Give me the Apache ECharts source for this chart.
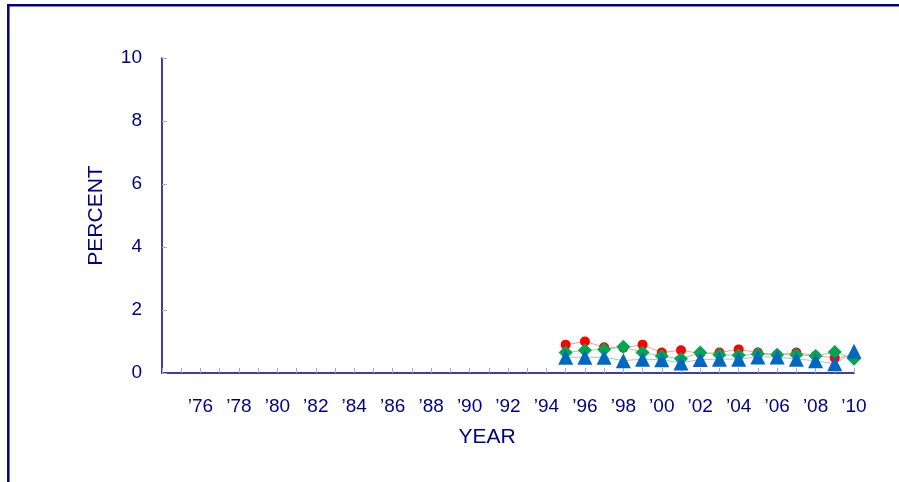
<!DOCTYPE html>
<html>
<head>
<meta charset="utf-8">
<script src="https://cdn.jsdelivr.net/npm/echarts@6/dist/echarts.min.js"></script>
<style>
html,body{margin:0;padding:0;background:#fff;}
#chart{width:899px;height:482px;}
</style>
</head>
<body>
<div id="chart"></div>
<script>
const years = [1995,1996,1997,1998,1999,2000,2001,2002,2003,2004,2005,2006,2007,2008,2009,2010];
const redValues   = [0.90,1.00,0.82,0.80,0.90,0.65,0.72,0.62,0.65,0.75,0.65,0.58,0.65,0.55,0.48,0.55];
const greenValues = [0.65,0.72,0.75,0.83,0.65,0.54,0.45,0.65,0.58,0.56,0.60,0.58,0.58,0.54,0.67,0.45];
const blueValues  = [0.50,0.50,0.50,0.39,0.44,0.42,0.32,0.43,0.44,0.44,0.51,0.51,0.44,0.39,0.29,0.69];
const xMin = 1974, xMax = 2010;
const yTicks = [0,2,4,6,8,10];

const navy = '#000080';
const tickColor = '#a8a8d0';
const font = 'Arial, "Liberation Sans", sans-serif';

function pairs(vals){ return years.map((y,i)=>[y, vals[i]]); }

const chart = echarts.init(document.getElementById('chart'));
chart.setOption({
  animation:false,
  backgroundColor:'#fff',
  graphic:[{
    type:'rect', silent:true,
    shape:{x:8.3,y:5.3,width:1200,height:1200},
    style:{fill:'none',stroke:navy,lineWidth:2.5}
  }],
  grid:{left:162,right:45,top:58,bottom:109,containLabel:false},
  xAxis:{
    type:'value', min:xMin, max:xMax, interval:1,
    name:'YEAR', nameLocation:'middle', nameGap:54,
    nameTextStyle:{color:navy,fontSize:21,fontFamily:font,padding:[0,42,0,0]},
    axisLine:{show:true,lineStyle:{color:navy,width:1.5}},
    axisTick:{show:true,inside:true,length:5,lineStyle:{color:tickColor,width:1}},
    splitLine:{show:false},
    axisLabel:{
      color:navy,fontSize:19,fontFamily:font,margin:24,
      formatter:function(v){
        if (v < 1976 || v % 2 !== 0) return '';
        return '\u2019' + String(v).slice(2);
      }
    }
  },
  yAxis:{
    type:'value', min:yTicks[0], max:yTicks[yTicks.length-1], interval:2,
    name:'PERCENT', nameLocation:'middle', nameGap:55, nameRotate:90,
    nameTextStyle:{color:navy,fontSize:21,fontFamily:font},
    axisLine:{show:true,lineStyle:{color:navy,width:1.5}},
    axisTick:{show:true,inside:true,length:5,lineStyle:{color:tickColor,width:1}},
    splitLine:{show:false},
    axisLabel:{color:navy,fontSize:19,fontFamily:font,margin:20,padding:[4,0,0,0]}
  },
  series:[
    {type:'line', data:pairs(redValues), symbol:'circle', symbolSize:10,
     itemStyle:{color:'#ff0000'}, lineStyle:{color:'#ff9a9a',width:1}},
    {type:'line', data:pairs(greenValues), symbol:'diamond', symbolSize:14,
     itemStyle:{color:'#00a650'}, lineStyle:{color:'#8fd8a0',width:1}},
    {type:'line', data:pairs(blueValues), symbol:'triangle', symbolSize:15,
     itemStyle:{color:'#0068c0'}, lineStyle:{color:'#99c4ea',width:1}}
  ]
});
</script>
</body>
</html>
